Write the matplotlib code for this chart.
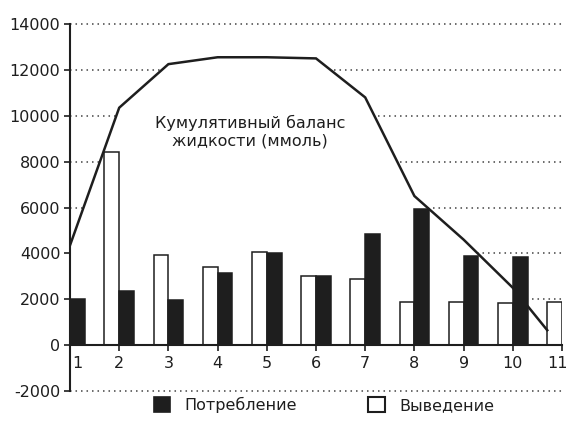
import matplotlib
matplotlib.use("Agg")
import matplotlib.pyplot as plt
from matplotlib.patches import Patch
import matplotlib.transforms as mtransforms
import numpy as np

plt.rcParams['font.family'] = ['DejaVu Sans']

days = [1, 2, 3, 4, 5, 6, 7, 8, 9, 10, 11]
intake = [2000, 2350, 1950, 3150, 4000, 3000, 4850, 5950, 3900, 3850, 0]
output = [1500, 8400, 3950, 3400, 4050, 3000, 2900, 1900, 1900, 1850, 1900]
balance_days = [1, 2, 3, 4, 5, 6, 7, 8, 9, 10, 10.7]
balance = [4350, 10350, 12250, 12550, 12550, 12500, 10800, 6500, 4600, 2500, 650]
yticks = [-2000, 0, 2000, 4000, 6000, 8000, 10000, 12000, 14000]
balance_label = "Кумулятивный баланс\nжидкости (ммоль)"
legend_labels = ["Потребление", "Выведение"]

ink = "#1e1e1e"
fs = 11.5
fig = plt.figure(figsize=(5.7, 4.26), dpi=100)
W, H = 570, 426
ax = fig.add_axes([70 / W, 1 - 391 / H, (562 - 70) / W, (391 - 24) / H])

x = np.array(days, dtype=float)
bw = 0.3

# dotted grid lines
for yv in yticks:
    if yv == 0:
        continue
    ax.axhline(yv, color="#444444", lw=1.1, ls=(0, (1, 2.6)), zorder=1, clip_on=False)

# area under cumulative balance is blank
ax.fill_between(balance_days, 0, balance, color="white", zorder=2, lw=0)

ax.bar(x - bw / 2, output, width=bw, color="white", edgecolor=ink, lw=1.1, zorder=3)
ax.bar(x + bw / 2, intake, width=bw, color=ink, edgecolor=ink, lw=1.1, zorder=3)

ax.plot(balance_days, balance, color=ink, lw=1.8, zorder=4, solid_joinstyle="miter")

ax.set_xlim(1, 11)
ax.set_ylim(-2000, 14000)
ax.set_yticks(yticks)
ax.set_yticklabels([str(v) for v in yticks])
ax.set_xticks(days)
ax.set_xticklabels([str(d) for d in days])

for s in ["top", "right"]:
    ax.spines[s].set_visible(False)
ax.spines["bottom"].set_position(("data", 0))
ax.spines["bottom"].set_color(ink)
ax.spines["bottom"].set_linewidth(1.5)
ax.spines["bottom"].set_zorder(5)
ax.spines["left"].set_color(ink)
ax.spines["left"].set_linewidth(1.5)
ax.tick_params(axis="x", direction="out", length=4, width=1.2, colors=ink, labelsize=fs, pad=4)
ax.tick_params(axis="y", direction="out", length=4, width=1.2, colors=ink, labelsize=fs, pad=3)

# first label sits just right of the axis, last one kept inside the frame
xl = ax.get_xticklabels()
xl[0].set_transform(xl[0].get_transform() + mtransforms.ScaledTranslation(7 / 100, 0, fig.dpi_scale_trans))
xl[-1].set_horizontalalignment("right")
xl[-1].set_transform(xl[-1].get_transform() + mtransforms.ScaledTranslation(6 / 100, 0, fig.dpi_scale_trans))

ax.text(4.66, 9300, balance_label, ha="center", va="center", fontsize=fs, color=ink,
        linespacing=1.15, zorder=6)

handles = [Patch(facecolor=ink, edgecolor=ink, lw=1.2),
           Patch(facecolor="white", edgecolor=ink, lw=1.5)]
fig.legend(handles, legend_labels, loc="center", ncol=2, frameon=False,
           bbox_to_anchor=(((150 + 492) / 2 + 3) / W, 1 - 405 / H), fontsize=fs,
           handlelength=1.05, handleheight=1.05, handletextpad=0.9, columnspacing=4.45,
           labelcolor=ink)

fig.savefig("out.png", dpi=100, facecolor="white")
